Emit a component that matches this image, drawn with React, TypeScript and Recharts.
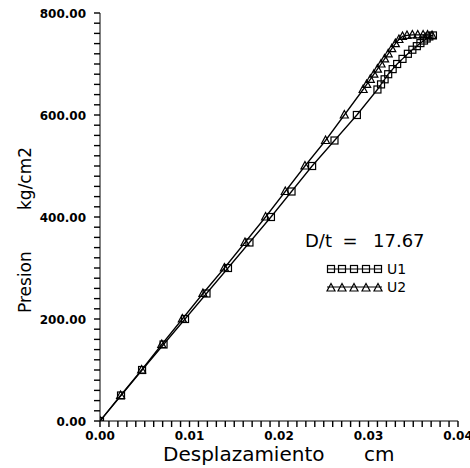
import React from "react";
import { LineChart, Line, XAxis, YAxis } from "recharts";

// U1 (squares)
const presionU1 = [0, 50, 100, 150, 200, 250, 300, 350, 400, 450, 500, 550, 600, 650, 660, 670, 680, 690, 700, 710, 720, 728, 735, 741, 746, 750, 754, 756];
const desplU1 = [0, 0.00235, 0.0047, 0.0071, 0.0095, 0.0119, 0.0143, 0.0167, 0.0191, 0.0214, 0.0237, 0.0262, 0.0287, 0.031, 0.0314, 0.0318, 0.0322, 0.0327, 0.0332, 0.0338, 0.0344, 0.0349, 0.0354, 0.0358, 0.0362, 0.0365, 0.0368, 0.0372];

// U2 (triangles)
const presionU2 = [0, 50, 100, 150, 200, 250, 300, 350, 400, 450, 500, 550, 600, 650, 660, 670, 680, 690, 700, 710, 720, 730, 740, 748, 754, 756, 757, 757, 757, 757, 756];
const desplU2 = [0, 0.0023, 0.00465, 0.0069, 0.0092, 0.0115, 0.0139, 0.0162, 0.0185, 0.0207, 0.0229, 0.0252, 0.0273, 0.0294, 0.0298, 0.0302, 0.0306, 0.031, 0.0314, 0.0318, 0.0322, 0.0326, 0.033, 0.0334, 0.0338, 0.0343, 0.0349, 0.0355, 0.0361, 0.0366, 0.0371];

const xMajor = [0, 0.01, 0.02, 0.03, 0.04];
const yMajor = [0, 200, 400, 600, 800];
const xMinorStep = 0.001;
const yMinorStep = 20;

const u1 = desplU1.map((x, i) => ({ x, y: presionU1[i] }));
const u2 = desplU2.map((x, i) => ({ x, y: presionU2[i] }));

const xTicks = Array.from({ length: Math.round(0.04 / xMinorStep) + 1 }, (_, i) => +(i * xMinorStep).toFixed(4));
const yTicks = Array.from({ length: 800 / yMinorStep + 1 }, (_, i) => i * yMinorStep);

const tickFont = { fontFamily: "DejaVu Sans", fontWeight: 700, fontSize: 12, fill: "#000" };
const titleFont = { fontFamily: "DejaVu Sans", fill: "#000" };

const square = (cx: number, cy: number, key: any) => (
  <rect key={key} x={cx - 3.5} y={cy - 3.5} width={7} height={7} fill="none" stroke="#000" strokeWidth={1.2} />
);
const triangle = (cx: number, cy: number, key: any) => (
  <polygon key={key} points={`${cx},${cy - 4.5} ${cx - 4},${cy + 3} ${cx + 4},${cy + 3}`} fill="none" stroke="#000" strokeWidth={1.2} />
);

const SquareDot = (p: any) => (p.cx == null ? <g key={`s${p.index}`} /> : square(p.cx, p.cy, `s${p.index}`));
const TriDot = (p: any) => (p.cx == null ? <g key={`t${p.index}`} /> : triangle(p.cx, p.cy, `t${p.index}`));

// custom ticks draw their own tick marks (axis sits 6px from the label anchor)
const XTick = (p: any) => {
  const v = p.payload.value;
  const major = xMajor.some((m) => Math.abs(m - v) < 1e-9);
  return (
    <g>
      <line x1={p.x} x2={p.x} y1={p.y - 6} y2={p.y} stroke="#000" strokeWidth={1.4} />
      {major && (
        <text x={p.x} y={p.y + 13} textAnchor="middle" {...tickFont}>
          {v.toFixed(2)}
        </text>
      )}
    </g>
  );
};

const YTick = (p: any) => {
  const v = p.payload.value;
  const major = yMajor.includes(v);
  return (
    <g>
      <line x1={p.x} x2={p.x + 6} y1={p.y} y2={p.y} stroke="#000" strokeWidth={1.4} />
      {major && (
        <text x={p.x - 8} y={p.y + 4.5} textAnchor="end" {...tickFont}>
          {v.toFixed(2)}
        </text>
      )}
    </g>
  );
};

// titles and legend box
const Decorations = () => (
  <svg width={470} height={468} style={{ position: "absolute", left: 0, top: 0, pointerEvents: "none" }}>
    <g transform="translate(31,233) rotate(-90)">
      <text x={-80} y={0} fontSize={17} {...titleFont}>Presion</text>
      <text x={23} y={0} fontSize={17} {...titleFont}>kg/cm2</text>
    </g>
    <text x={163} y={461} fontSize={20} {...titleFont}>Desplazamiento</text>
    <text x={364} y={461} fontSize={20} {...titleFont}>cm</text>

    <text x={305} y={247} fontSize={18} {...titleFont}>D/t</text>
    <text x={350} y={247} fontSize={18} textAnchor="middle" {...titleFont}>=</text>
    <text x={373} y={247} fontSize={18} {...titleFont}>17.67</text>

    <line x1={327} x2={382} y1={269} y2={269} stroke="#000" strokeWidth={1.2} />
    {[331, 342, 354, 366, 378].map((x, i) => square(x, 269, `ls${i}`))}
    <text x={387} y={274} fontSize={14} {...titleFont}>U1</text>

    <line x1={327} x2={382} y1={287} y2={287} stroke="#000" strokeWidth={1.2} />
    {[331, 342, 354, 366, 378].map((x, i) => triangle(x, 288, `lt${i}`))}
    <text x={387} y={292} fontSize={14} {...titleFont}>U2</text>
  </svg>
);

export default function App() {
  return (
    <div style={{ position: "absolute", left: 0, top: 0, width: 470, height: 468, background: "#fff" }}>
      <LineChart width={470} height={468} margin={{ top: 13, right: 12, left: 0, bottom: 0 }}>
        <XAxis
          type="number"
          dataKey="x"
          domain={[0, 0.04]}
          ticks={xTicks}
          interval={0}
          height={47}
          tick={<XTick />}
          tickSize={4}
          tickLine={false}
          stroke="#000"
          allowDataOverflow
        />
        <YAxis
          type="number"
          dataKey="y"
          domain={[0, 800]}
          ticks={yTicks}
          interval={0}
          width={100}
          tick={<YTick />}
          tickSize={4}
          tickLine={false}
          stroke="#000"
          allowDataOverflow
        />
        <Line
          data={u1}
          dataKey="y"
          type="linear"
          stroke="#000"
          strokeWidth={1.3}
          dot={SquareDot}
          isAnimationActive={false}
        />
        <Line
          data={u2}
          dataKey="y"
          type="linear"
          stroke="#000"
          strokeWidth={1.3}
          dot={TriDot}
          isAnimationActive={false}
        />
      </LineChart>
      <Decorations />
    </div>
  );
}
